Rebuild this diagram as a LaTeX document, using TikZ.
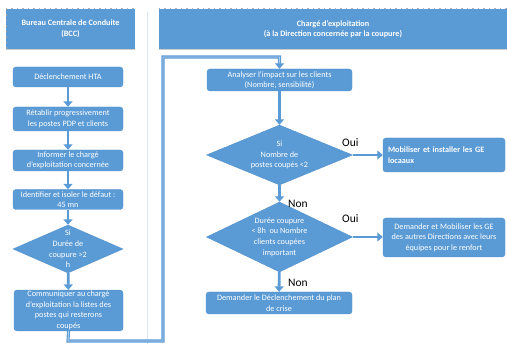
\documentclass[tikz,border=0pt]{standalone}
\usepackage{fontspec}
\setmainfont{Carlito}
\usetikzlibrary{arrows.meta,shapes.geometric}
\definecolor{ob}{HTML}{5B9BD5}
\definecolor{obd}{HTML}{5290CC}
\definecolor{lane}{HTML}{DCE6F2}
\definecolor{obl}{HTML}{B4D0EE}
\newcommand{\fsbox}{\fontsize{8.2}{10.6}\selectfont}
\newcommand{\fslab}{\fontsize{11.5}{13}\selectfont}
\begin{document}
\begin{tikzpicture}[x=1pt,y=-1pt,
  box/.style={rectangle, rounded corners=3pt, fill=ob, draw=obd, line width=0.4pt, text=white, align=center, font=\fsbox, inner sep=1pt},
  dia/.style={diamond, fill=ob, draw=obd, line width=0.4pt, inner sep=0pt},
  dtext/.style={text=white, align=center, font=\fsbox, inner sep=0pt},
  head/.style={rectangle, fill=ob, text=white, align=center, font=\fsbox\bfseries, inner sep=0pt},
  arr/.style={draw=ob, line width=2.8pt, -{Triangle[width=9pt,length=5.5pt]}},
  conn/.style={draw=ob, line width=1.1pt, double=obl, double distance=0.9pt, -{Triangle[width=9pt,length=5.5pt]}},
  lab/.style={font=\fslab, text=black, inner sep=0pt}
]
\useasboundingbox (0,0) rectangle (507,344);
% lanes
\draw[lane, line width=1pt] (147,12) -- (147,344);
\node[head, minimum width=129pt, minimum height=40pt] (h1) at (70.5,29) {Bureau Centrale de Conduite\\(BCC)};
\node[head, minimum width=348pt, minimum height=40pt] (h2) at (333,29) {Chargé d'exploitation\\(à la Direction concernée par la coupure)};
\draw[gray!60, dash pattern=on 1.5pt off 4pt, line width=0.6pt] (h1.north west) -- (h1.north east);
\draw[gray!70, dash pattern=on 1.5pt off 4pt, line width=0.6pt] (h1.north west) -- (h1.south west);
\draw[gray!60, dash pattern=on 1.5pt off 4pt, line width=0.6pt] (h2.north west) -- (h2.north east);
\draw[gray!40, line width=0.6pt] (h1.south west) -- (h1.south east);
\draw[gray!40, line width=0.6pt] (h2.south west) -- (h2.south east);
% left column
\node[box, minimum width=110pt, minimum height=20pt] (hta) at (68,77) {Déclenchement HTA};
\node[box, minimum width=110pt, minimum height=24pt] (ret) at (68,119) {Rétablir progressivement\\les postes PDP et clients};
\node[box, minimum width=110pt, minimum height=21pt] (inf) at (68,160.5) {Informer le chargé\\d'exploitation concernée};
\node[box, minimum width=110pt, minimum height=20pt] (idf) at (68,199.5) {Identifier et isoler le défaut :\\45 mn};
\node[dia, minimum width=110pt, minimum height=48pt] (d0) at (68,249) {};
\node[dtext] at (d0.center) {Si\\Durée de\\coupure >2\\h};
\node[box, minimum width=109pt, minimum height=39pt] (com) at (68.5,310.5) {Communiquer au chargé\\d'exploitation la listes des\\postes qui resterons\\coupés};
\draw[arr] (hta) -- (ret);
\draw[arr] (ret) -- (inf);
\draw[arr] (inf) -- (idf);
\draw[arr] (idf) -- (d0);
\draw[arr] (d0) -- (com);
% right column
\node[box, minimum width=145pt, minimum height=22pt] (ana) at (279.5,80) {Analyser l'impact sur les clients\\(Nombre, sensibilité)};
\node[dia, minimum width=146pt, minimum height=60pt] (d1) at (279.5,155) {};
\node[dtext] at (d1.center) {Si\\Nombre de\\postes coupés <2};
\node[dia, minimum width=146pt, minimum height=70pt] (d2) at (279.5,237) {};
\node[dtext] at (d2.center) {Durée coupure\\< 8h~ ou Nombre\\clients coupées\\important};
\node[box, minimum width=146pt, minimum height=22pt] (fin) at (279,303) {Demander le Déclenchement du plan\\de crise};
\node[box, minimum width=122pt, minimum height=34pt, text width=112pt, align=left, font=\fsbox\bfseries, inner sep=5pt] (b1) at (444,155) {Mobiliser et installer les GE\\locaaux};
\node[box, minimum width=122pt, minimum height=39pt] (b2) at (444,237.5) {Demander et Mobiliser les GE\\des autres Directions avec leurs\\équipes pour le renfort};
\draw[arr] (ana) -- (d1);
\draw[arr] (d1.east) -- (b1.west |- d1.east);
\draw[arr] (d1) -- (d2);
\draw[arr] (d2.east) -- (b2.west |- d2.east);
\draw[arr] (d2) -- (fin);
\node[lab, anchor=west] (oui1) at (342,143) {Oui};
\node[lab, anchor=west] (oui2) at (342,219) {Oui};
\node[lab, anchor=west] (non1) at (288,204) {Non};
\node[lab, anchor=west] (non2) at (288,283) {Non};
% connector from left to right lane
\coordinate (c1) at (68,341);
\coordinate (c2) at (163,341);
\coordinate (c3) at (163,57);
\coordinate (c4) at (279.5,57);
\draw[conn] (com.south) -- (c1) -- (c2) -- (c3) -- (c4) -- (ana.north);
\end{tikzpicture}
\end{document}
